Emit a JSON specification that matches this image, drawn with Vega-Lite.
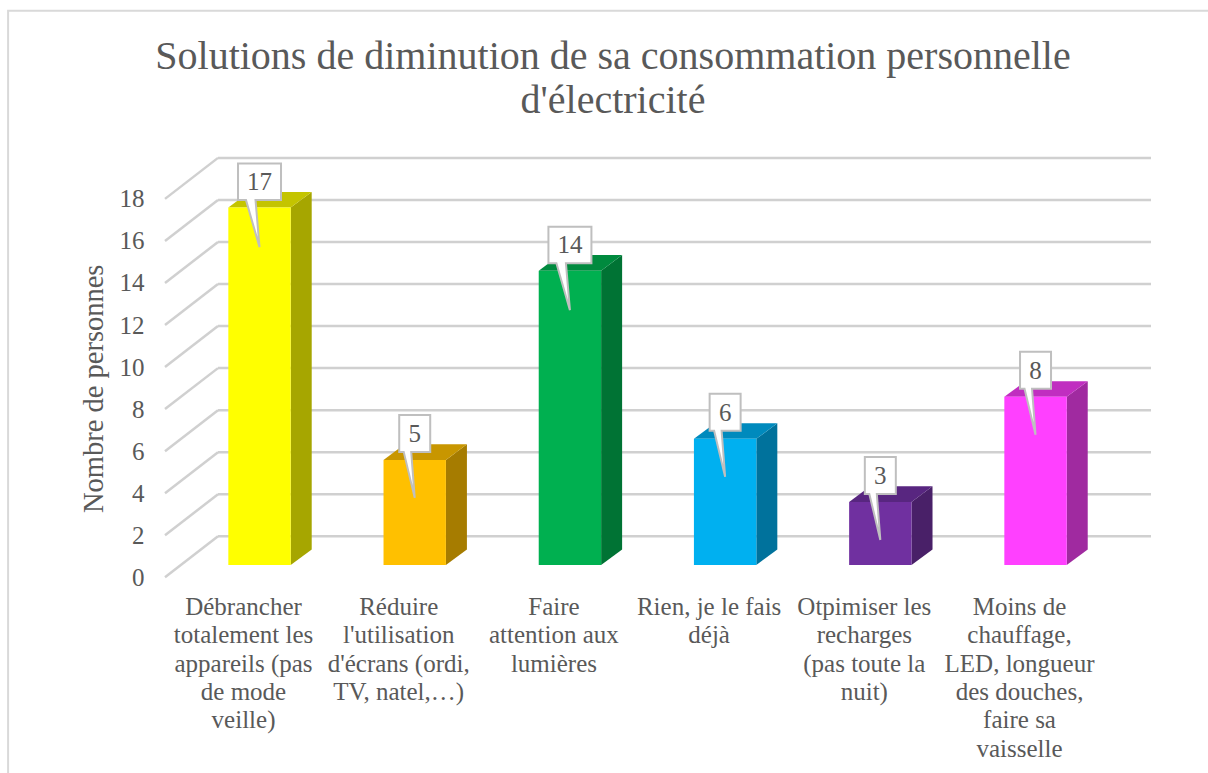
{
"$schema":"https://vega.github.io/schema/vega-lite/v6.json",
"width":986,"height":419,
"autosize":{"type":"none"},
"padding":{"left":165,"top":158.3,"right":57,"bottom":195.7},
"background":"white",
"config":{"view":{"stroke":null},"font":"Liberation Serif"},
"title":{"text":["Solutions de diminution de sa consommation personnelle","d'électricité"],"fontSize":40,"font":"Liberation Serif","fontWeight":"normal","color":"#595959","anchor":"middle","dx":-45,"offset":-111,"lineHeight":44},
"datasets":{
"bars":[
{"i":0,"label":"Débrancher\ntotalement les\nappareils (pas\nde mode\nveille)","value":17},
{"i":1,"label":"Réduire\nl'utilisation\nd'écrans (ordi,\nTV, natel,…)","value":5},
{"i":2,"label":"Faire\nattention aux\nlumières","value":14},
{"i":3,"label":"Rien, je le fais\ndéjà","value":6},
{"i":4,"label":"Otpimiser les\nrecharges\n(pas toute la\nnuit)","value":3},
{"i":5,"label":"Moins de\nchauffage,\nLED, longueur\ndes douches,\nfaire sa\nvaisselle","value":8}
],
"ticks":[{"tick":0},{"tick":2},{"tick":4},{"tick":6},{"tick":8},{"tick":10},{"tick":12},{"tick":14},{"tick":16},{"tick":18}]
},
"layer":[
{"data":{"name":"ticks"},
 "transform":[{"calculate":"datum.tick+1.95","as":"back"}],
 "mark":{"type":"rule","stroke":"#d0d0d0","strokeWidth":2.5},
 "encoding":{
  "x":{"datum":-0.2675,"type":"quantitative","scale":{"domain":[-0.609,5.744]},"axis":null},
  "x2":{"datum":5.744},
  "y":{"field":"back","type":"quantitative","scale":{"domain":[0,19.93]},"axis":null}
 }},
{"data":{"name":"ticks"},
 "transform":[{"calculate":"datum.tick+1.95","as":"back"}],
 "mark":{"type":"rule","stroke":"#d0d0d0","strokeWidth":2.5},
 "encoding":{
  "x":{"datum":-0.609,"type":"quantitative","scale":{"domain":[-0.609,5.744]},"axis":null},
  "x2":{"datum":-0.2675},
  "y":{"field":"tick","type":"quantitative","scale":{"domain":[0,19.93]},
   "axis":{"values":[0,2,4,6,8,10,12,14,16,18],"title":"Nombre de personnes","titleFont":"Liberation Serif","titleFontSize":28.5,"titleFontWeight":"normal","titleColor":"#595959","titleX":-57,"titleY":230,"titleAnchor":"middle","domain":false,"ticks":false,"grid":false,"labelPadding":21,"labelFont":"Liberation Serif","labelFontSize":25,"labelColor":"#595959"}},
  "y2":{"field":"back"}
 }},
{"data":{"name":"bars"},
 "transform":[
  {"calculate":"[0,1]","as":"c"},{"flatten":["c"]},
  {"calculate":"datum.i+0.201+datum.c*0.1353","as":"sx"},
  {"calculate":"0.585+datum.c*0.74","as":"sy"},
  {"calculate":"0.585+datum.value+datum.c*0.74","as":"sy2"}
 ],
 "mark":{"type":"area","line":false,"opacity":1,"interpolate":"linear"},
 "encoding":{
  "x":{"field":"sx","type":"quantitative","scale":{"domain":[-0.609,5.744]},"axis":null},
  "y":{"field":"sy","type":"quantitative","scale":{"domain":[0,19.93]},"axis":null},
  "y2":{"field":"sy2"},
  "color":{"field":"i","type":"nominal","legend":null,"scale":{"range":["#a6a600","#a67c00","#007334","#00729c","#492068","#a02aa0"]}}
 }},
{"data":{"name":"bars"},
 "transform":[
  {"calculate":"datum.value+0.585","as":"top"},
  {"calculate":"[0,1,2,3]","as":"c"},{"flatten":["c"]},
  {"calculate":"datum.i-0.201+(datum.c==0?0:datum.c==1?0.1353:datum.c==2?0.402:0.5373)","as":"tx"},
  {"calculate":"datum.c==3?datum.top+0.74:datum.top","as":"ty"},
  {"calculate":"datum.c==0?datum.top:datum.top+0.74","as":"ty2"}
 ],
 "mark":{"type":"area","line":false,"opacity":1,"interpolate":"linear"},
 "encoding":{
  "x":{"field":"tx","type":"quantitative","scale":{"domain":[-0.609,5.744]},"axis":null},
  "y":{"field":"ty","type":"quantitative","scale":{"domain":[0,19.93]},"axis":null},
  "y2":{"field":"ty2"},
  "color":{"field":"i","type":"nominal","legend":null,"scale":{"range":["#c4c400","#c89600","#008a3e","#008abd","#582680","#c02ec0"]}}
 }},
{"data":{"name":"bars"},
 "transform":[
  {"calculate":"datum.i-0.201","as":"fx"},{"calculate":"datum.i+0.201","as":"fx2"},{"calculate":"0.585","as":"base"},{"calculate":"datum.value+0.585","as":"top"}
 ],
 "mark":{"type":"rect","opacity":1},
 "encoding":{
  "x":{"field":"fx","type":"quantitative","scale":{"domain":[-0.609,5.744]},"axis":null},
  "x2":{"field":"fx2"},
  "y":{"field":"base","type":"quantitative","scale":{"domain":[0,19.93]},"axis":null},
  "y2":{"field":"top"},
  "color":{"field":"i","type":"nominal","legend":null,"scale":{"range":["#ffff00","#ffc000","#00b050","#00b0f0","#7030a0","#ff40ff"]}}
 }},
{"data":{"name":"bars"},
 "transform":[{"calculate":"datum.value+0.585","as":"top"}],
 "mark":{"type":"point","filled":true,"fill":"white","stroke":"#bfbfbf","strokeWidth":2,"opacity":1,"size":4},
 "encoding":{
  "x":{"field":"i","type":"quantitative","scale":{"domain":[-0.609,5.744]},"axis":null},
  "y":{"field":"top","type":"quantitative","scale":{"domain":[0,19.93]},"axis":null},
  "shape":{"condition":{"test":"datum.value>=10","value":"M-21.5,-44H21.5V-7.5H-4L0,39.5L-13.5,-7.5H-21.5Z"},"value":"M-15.5,-45H15.5V-8H-3.5L0,38L-11,-8H-15.5Z"}
 }},
{"data":{"name":"bars"},
 "transform":[{"calculate":"datum.value+0.585","as":"top"}],
 "mark":{"type":"text","font":"Liberation Serif","fontSize":25,"color":"#595959","dy":-26,"baseline":"middle","align":"center"},
 "encoding":{
  "x":{"field":"i","type":"quantitative","scale":{"domain":[-0.609,5.744]},"axis":null},
  "y":{"field":"top","type":"quantitative","scale":{"domain":[0,19.93]},"axis":null},
  "text":{"field":"value","type":"quantitative"}
 }},
{"data":{"name":"bars"},
 "transform":[{"calculate":"-1.4","as":"ly"}],
 "mark":{"type":"text","font":"Liberation Serif","fontSize":25,"color":"#595959","lineBreak":"\n","lineHeight":28.4,"baseline":"middle","align":"center","dx":-16},
 "encoding":{
  "x":{"field":"i","type":"quantitative","scale":{"domain":[-0.609,5.744]},"axis":null},
  "y":{"field":"ly","type":"quantitative","scale":{"domain":[0,19.93]},"axis":null},
  "text":{"field":"label"}
 }},
{"data":{"values":[{"frame":1}]},
 "mark":{"type":"rect","fillOpacity":0,"fill":"white","stroke":"#d9d9d9","strokeWidth":2,"clip":false},
 "encoding":{
  "x":{"datum":-1.62,"type":"quantitative","scale":{"domain":[-0.609,5.744]},"axis":null},
  "x2":{"datum":9},
  "y":{"datum":-12,"type":"quantitative","scale":{"domain":[0,19.93]},"axis":null},
  "y2":{"datum":26.95}
 }}
],
"resolve":{"scale":{"color":"independent"},"axis":{"y":"independent"}}
}
